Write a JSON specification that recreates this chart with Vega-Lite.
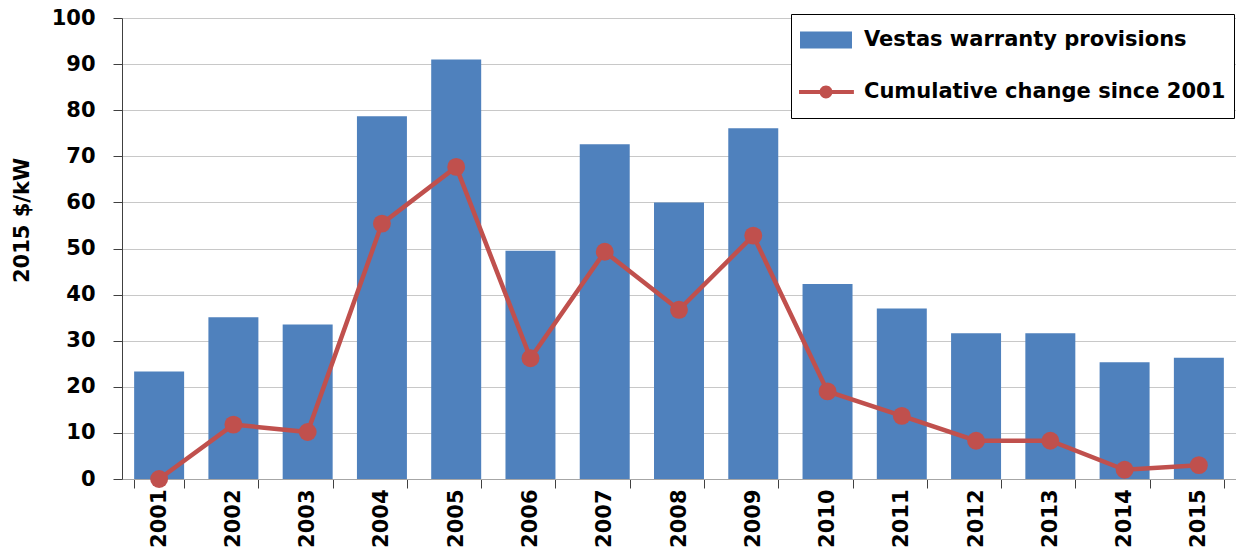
{
  "$schema": "https://vega.github.io/schema/vega-lite/v6.json",
  "autosize": {"type": "none"},
  "padding": {"left": 122, "top": 18, "right": 0, "bottom": 69},
  "width": 1114,
  "height": 461,
  "background": "white",
  "config": {
    "view": {"stroke": null},
    "font": "DejaVu Sans"
  },
  "data": {
    "values": [
      {"year": "2001", "series": "Vestas warranty provisions", "value": 23.3},
      {"year": "2002", "series": "Vestas warranty provisions", "value": 35.1},
      {"year": "2003", "series": "Vestas warranty provisions", "value": 33.5},
      {"year": "2004", "series": "Vestas warranty provisions", "value": 78.7},
      {"year": "2005", "series": "Vestas warranty provisions", "value": 91.0},
      {"year": "2006", "series": "Vestas warranty provisions", "value": 49.5},
      {"year": "2007", "series": "Vestas warranty provisions", "value": 72.6},
      {"year": "2008", "series": "Vestas warranty provisions", "value": 60.0},
      {"year": "2009", "series": "Vestas warranty provisions", "value": 76.1},
      {"year": "2010", "series": "Vestas warranty provisions", "value": 42.3},
      {"year": "2011", "series": "Vestas warranty provisions", "value": 37.0},
      {"year": "2012", "series": "Vestas warranty provisions", "value": 31.6},
      {"year": "2013", "series": "Vestas warranty provisions", "value": 31.6},
      {"year": "2014", "series": "Vestas warranty provisions", "value": 25.3},
      {"year": "2015", "series": "Vestas warranty provisions", "value": 26.3},
      {"year": "2001", "series": "Cumulative change since 2001", "value": 0.0},
      {"year": "2002", "series": "Cumulative change since 2001", "value": 11.8},
      {"year": "2003", "series": "Cumulative change since 2001", "value": 10.2},
      {"year": "2004", "series": "Cumulative change since 2001", "value": 55.4},
      {"year": "2005", "series": "Cumulative change since 2001", "value": 67.7},
      {"year": "2006", "series": "Cumulative change since 2001", "value": 26.2},
      {"year": "2007", "series": "Cumulative change since 2001", "value": 49.3},
      {"year": "2008", "series": "Cumulative change since 2001", "value": 36.7},
      {"year": "2009", "series": "Cumulative change since 2001", "value": 52.8},
      {"year": "2010", "series": "Cumulative change since 2001", "value": 19.0},
      {"year": "2011", "series": "Cumulative change since 2001", "value": 13.7},
      {"year": "2012", "series": "Cumulative change since 2001", "value": 8.3},
      {"year": "2013", "series": "Cumulative change since 2001", "value": 8.3},
      {"year": "2014", "series": "Cumulative change since 2001", "value": 2.0},
      {"year": "2015", "series": "Cumulative change since 2001", "value": 3.0}
    ]
  },
  "encoding": {
    "x": {
      "field": "year",
      "type": "ordinal",
      "scale": {"paddingInner": 0.327, "paddingOuter": 0.1635},
      "axis": {
        "title": null,
        "tickBand": "extent",
        "labelAngle": -90,
        "labelFont": "DejaVu Sans",
        "labelFontSize": 21,
        "labelFontWeight": "bold",
        "labelColor": "black",
        "labelPadding": 1,
        "tickSize": 9,
        "tickColor": "#404040",
        "domainColor": "#a6a6a6",
        "grid": false
      }
    },
    "y": {
      "field": "value",
      "type": "quantitative",
      "scale": {"domain": [0, 100], "nice": false},
      "axis": {
        "title": "2015 $/kW",
        "titleFont": "DejaVu Sans",
        "titleFontSize": 21,
        "titleFontWeight": "bold",
        "titleColor": "black",
        "titleAngle": -90,
        "titleX": -100,
        "titleY": 202,
        "titleAlign": "center",
        "titleBaseline": "middle",
        "values": [0, 10, 20, 30, 40, 50, 60, 70, 80, 90, 100],
        "labelFont": "DejaVu Sans",
        "labelFontSize": 21,
        "labelFontWeight": "bold",
        "labelColor": "black",
        "labelPadding": 18,
        "tickSize": 9,
        "tickColor": "#404040",
        "domainColor": "#404040",
        "grid": true,
        "gridColor": "#c8c8c8",
        "gridWidth": 1
      }
    }
  },
  "layer": [
    {
      "transform": [{"filter": "datum.series === 'Vestas warranty provisions'"}],
      "mark": {"type": "bar", "color": "#4F81BD"}
    },
    {
      "transform": [{"filter": "datum.series === 'Cumulative change since 2001'"}],
      "mark": {"type": "line", "color": "#C0504D", "strokeWidth": 4.5}
    },
    {
      "transform": [{"filter": "datum.series === 'Cumulative change since 2001'"}],
      "mark": {"type": "point", "filled": true, "color": "#C0504D", "size": 320, "opacity": 1}
    },
    {
      "mark": {"type": "point", "filled": true, "opacity": 0},
      "encoding": {
        "color": {
          "field": "series",
          "type": "nominal",
          "scale": {
            "domain": ["Vestas warranty provisions", "Cumulative change since 2001"],
            "range": ["#4F81BD", "#C0504D"]
          },
          "legend": {
            "title": null,
            "orient": "none",
            "legendX": 669,
            "legendY": -4,
            "padding": 8,
            "strokeColor": "black",
            "fillColor": "white",
            "symbolSize": 1296,
            "symbolOpacity": 1,
            "symbolStrokeWidth": 0,
            "clipHeight": 36,
            "rowPadding": 16,
            "labelOffset": 29,
            "labelFont": "DejaVu Sans",
            "labelFontSize": 21,
            "labelFontWeight": "bold",
            "labelColor": "black",
            "labelLimit": 0
          }
        },
        "shape": {
          "field": "series",
          "type": "nominal",
          "scale": {
            "domain": ["Vestas warranty provisions", "Cumulative change since 2001"],
            "range": [
              "M-0.944,-0.47H1.944V0.47H-0.944Z",
              "M-1.05,-0.11H2.05V0.11H-1.05Z M0.86,0A0.36,0.36 0 1,1 0.14,0A0.36,0.36 0 1,1 0.86,0Z"
            ]
          },
          "legend": {
            "title": null,
            "orient": "none",
            "legendX": 669,
            "legendY": -4,
            "padding": 8,
            "strokeColor": "black",
            "fillColor": "white",
            "symbolSize": 1296,
            "symbolOpacity": 1,
            "symbolStrokeWidth": 0,
            "clipHeight": 36,
            "rowPadding": 16,
            "labelOffset": 29,
            "labelFont": "DejaVu Sans",
            "labelFontSize": 21,
            "labelFontWeight": "bold",
            "labelColor": "black",
            "labelLimit": 0
          }
        }
      }
    }
  ]
}
